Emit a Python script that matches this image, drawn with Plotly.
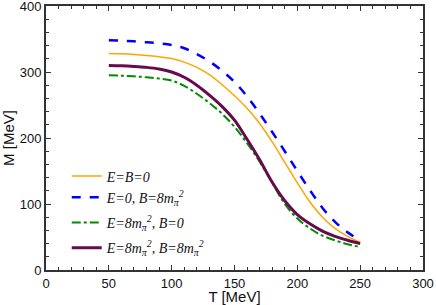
import plotly.graph_objects as go

T = [50, 60, 70, 80, 90, 100, 110, 120, 130, 140, 150, 160, 170, 180, 190, 200, 210, 220, 230, 240, 250]

M_zero = [328, 327.5, 326.5, 325, 323, 320.5, 315, 307, 296, 281, 264, 245, 222, 194, 163, 132, 103, 80, 63, 51, 42]
M_B8 = [348, 347.5, 346.5, 345, 343.5, 341, 336, 327, 316, 302, 285, 263, 237, 209, 180, 150, 121, 94, 73, 57, 45]
M_E8 = [295, 294.5, 293.5, 292, 290, 287, 279, 267, 253, 237, 217, 192, 164, 132, 100, 78, 63, 52, 45, 39, 35]
M_E8B8 = [310, 309.5, 308.5, 307, 304.5, 300, 292, 280, 265, 248, 227, 198, 167, 133, 105, 84, 70, 59, 51, 45, 40]

names = [
    "<i>E=B=0</i>",
    "<i>E=0, B=8m<sub>π</sub><sup>2</sup></i>",
    "<i>E=8m<sub>π</sub><sup>2</sup>, B=0</i>",
    "<i>E=8m<sub>π</sub><sup>2</sup>, B=8m<sub>π</sub><sup>2</sup></i>",
]

fig = go.Figure()
fig.add_trace(go.Scatter(x=T, y=M_zero, mode="lines", name=names[0], legendgroup="a",
                         line=dict(color="#FFA500", width=1.5, shape="spline", smoothing=1)))
fig.add_trace(go.Scatter(x=T, y=M_B8, mode="lines", name=names[1], legendgroup="a",
                         line=dict(color="#0000FF", width=2.5, dash="dash", shape="spline", smoothing=1)))
fig.add_trace(go.Scatter(x=T, y=M_E8, mode="lines", name=names[2], legendgroup="b",
                         line=dict(color="#008C00", width=2, dash="dashdot", shape="spline", smoothing=1)))
fig.add_trace(go.Scatter(x=T, y=M_E8B8, mode="lines", name=names[3], legendgroup="c",
                         line=dict(color="#660C4C", width=3, shape="spline", smoothing=1)))

axis_common = dict(
    showline=True, linecolor="#333333", linewidth=2, mirror="allticks",
    ticks="inside", ticklen=5, tickwidth=1, tickcolor="#333333",
    showgrid=False, zeroline=False, automargin=False, ticklabeloverflow="allow",
    tickfont=dict(family="Liberation Sans, Arial, sans-serif", size=13, color="#111111"),
)

fig.update_xaxes(range=[0, 300], dtick=50,
                 minor=dict(ticks="inside", dtick=10, ticklen=3, tickcolor="#333333"),
                 title=dict(text="T [MeV]", font=dict(family="Liberation Sans, Arial, sans-serif", size=15, color="#111111"), standoff=0),
                 **axis_common)
fig.update_yaxes(range=[0, 400], dtick=100,
                 minor=dict(ticks="inside", dtick=20, ticklen=3, tickcolor="#333333"),
                 title=dict(text="M [MeV]", font=dict(family="Liberation Sans, Arial, sans-serif", size=15, color="#111111"), standoff=2),
                 **axis_common)

fig.update_layout(
    width=436, height=305,
    margin=dict(l=46, r=13, t=6, b=35, autoexpand=False),
    plot_bgcolor="white", paper_bgcolor="white",
    showlegend=True,
    legend=dict(x=0.055, y=0.415, xanchor="left", yanchor="top",
                bgcolor="rgba(0,0,0,0)",
                font=dict(family="Liberation Serif, Times New Roman, serif", size=14, color="#111111"),
                itemwidth=30, tracegroupgap=4),
)

fig.write_html("out.html", config={"displayModeBar": False},
               post_script="document.body.style.margin='0';document.body.style.padding='0';document.body.style.overflow='hidden';")
